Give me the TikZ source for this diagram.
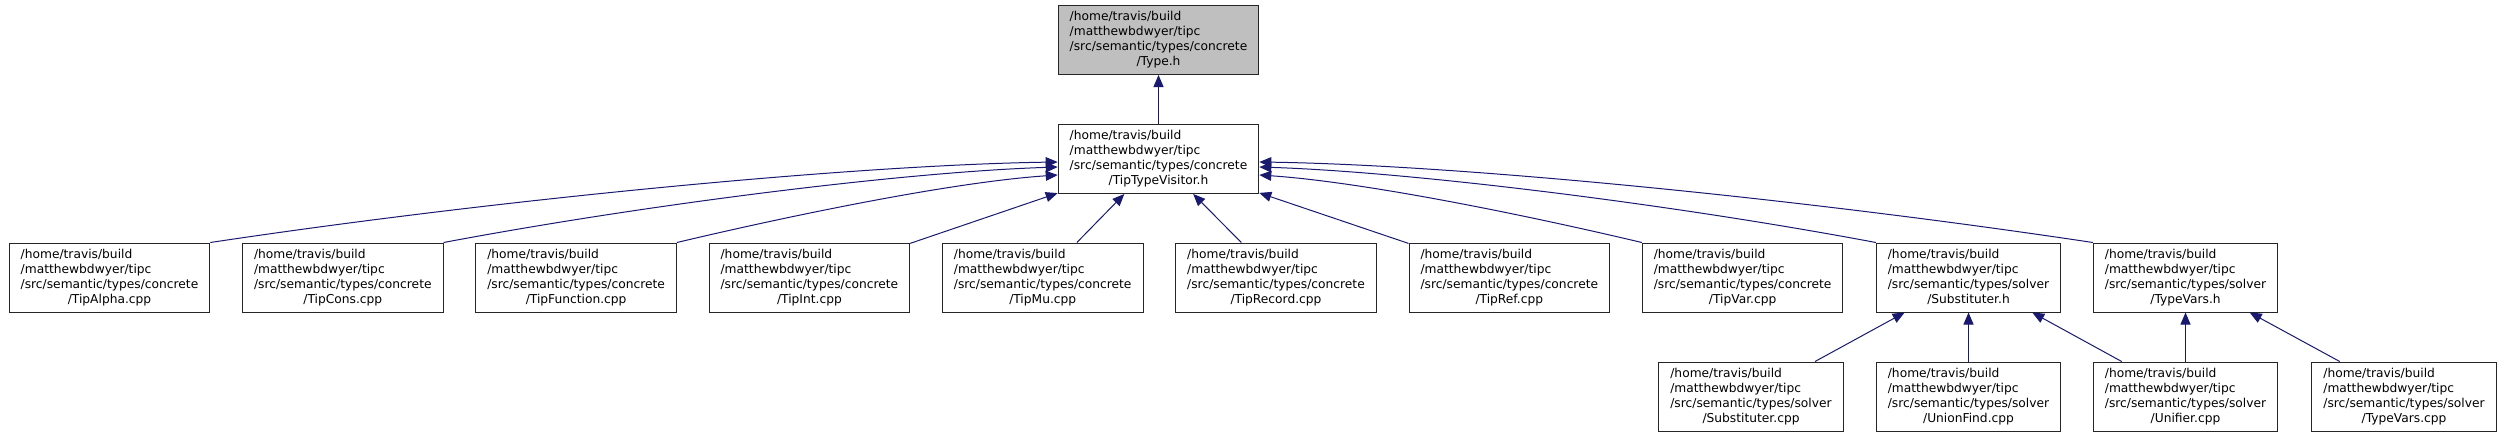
\documentclass[tikz,border=0pt]{standalone}
\usepackage{fontspec}
\setmainfont{DejaVu Sans}
\usetikzlibrary{arrows.meta}
\definecolor{edgeblue}{RGB}{25,25,112}
\definecolor{boxgray}{RGB}{191,191,191}
% path label: three left lines, last line centred
\newcommand{\fpath}[2]{\begin{tabular}{@{}l@{}}/home/travis/build\\/matthewbdwyer/tipc\\/src/semantic/types/#1\\\multicolumn{1}{@{}c@{}}{/#2}\end{tabular}}
\begin{document}
\begin{tikzpicture}[x=1pt, y=-1pt,
  file/.style={draw=black!85, line width=1pt, fill=white, minimum height=69pt,
    inner xsep=11.5pt, inner ysep=0pt, font=\fontsize{12.25}{15}\selectfont},
  edge/.style={draw=edgeblue, line width=1pt, -{Triangle[length=12pt,width=10pt]}}]
  \useasboundingbox[fill=white] (0,0) rectangle (2505,437);
  % Type.h and visitor
  \node[file, fill=boxgray] (type) at (1158.5,40) {\fpath{concrete}{Type.h}};
  \node[file] (visitor) at (1158.5,159) {\fpath{concrete}{TipTypeVisitor.h}};
  \draw[edge] (visitor) -- (type);
  % concrete sources
  \node[file] (alpha) at (109.5,277.5) {\fpath{concrete}{TipAlpha.cpp}};
  \node[file] (cons) at (342.8,277.5) {\fpath{concrete}{TipCons.cpp}};
  \node[file] (function) at (576.1,277.5) {\fpath{concrete}{TipFunction.cpp}};
  \node[file] (int) at (809.4,277.5) {\fpath{concrete}{TipInt.cpp}};
  \node[file] (mu) at (1042.7,277.5) {\fpath{concrete}{TipMu.cpp}};
  \node[file] (record) at (1276,277.5) {\fpath{concrete}{TipRecord.cpp}};
  \node[file] (ref) at (1509.3,277.5) {\fpath{concrete}{TipRef.cpp}};
  \node[file] (var) at (1742.6,277.5) {\fpath{concrete}{TipVar.cpp}};
  % solver headers
  \node[file] (subh) at (1968.5,277.5) {\fpath{solver}{Substituter.h}};
  \node[file] (tvh) at (2185.5,277.5) {\fpath{solver}{TypeVars.h}};
  % solver sources
  \node[file] (subcpp) at (1751,396.5) {\fpath{solver}{Substituter.cpp}};
  \node[file] (union) at (1968.5,396.5) {\fpath{solver}{UnionFind.cpp}};
  \node[file] (unifier) at (2185.5,396.5) {\fpath{solver}{Unifier.cpp}};
  \node[file] (tvcpp) at (2404,396.5) {\fpath{solver}{TypeVars.cpp}};
  % edges into the visitor, left side
  \draw[edge] (alpha.north east) .. controls +(286,-43) and +(-204,3) .. ([yshift=-3pt]visitor.west);
  \draw[edge] (cons.north east) .. controls +(202,-38) and +(-154,5) .. ([yshift=-8pt]visitor.west);
  \draw[edge] (function.north east) .. controls +(118,-28) and +(-104,7) .. ([yshift=-16pt]visitor.west);
  \draw[edge] (int) -- (visitor);
  \draw[edge] (mu) -- (visitor);
  \draw[edge] (record) -- (visitor);
  \draw[edge] (ref) -- (visitor);
  % edges into the visitor, right side
  \draw[edge] (var.north west) .. controls +(-118,-28) and +(104,7) .. ([yshift=-16pt]visitor.east);
  \draw[edge] (subh.north west) .. controls +(-202,-38) and +(154,5) .. ([yshift=-8pt]visitor.east);
  \draw[edge] (tvh.north west) .. controls +(-286,-43) and +(204,3) .. ([yshift=-3pt]visitor.east);
  % solver edges
  \draw[edge] (subcpp) -- (subh);
  \draw[edge] (union) -- (subh);
  \draw[edge] (unifier) -- (subh);
  \draw[edge] (unifier) -- (tvh);
  \draw[edge] (tvcpp) -- (tvh);
\end{tikzpicture}
\end{document}
